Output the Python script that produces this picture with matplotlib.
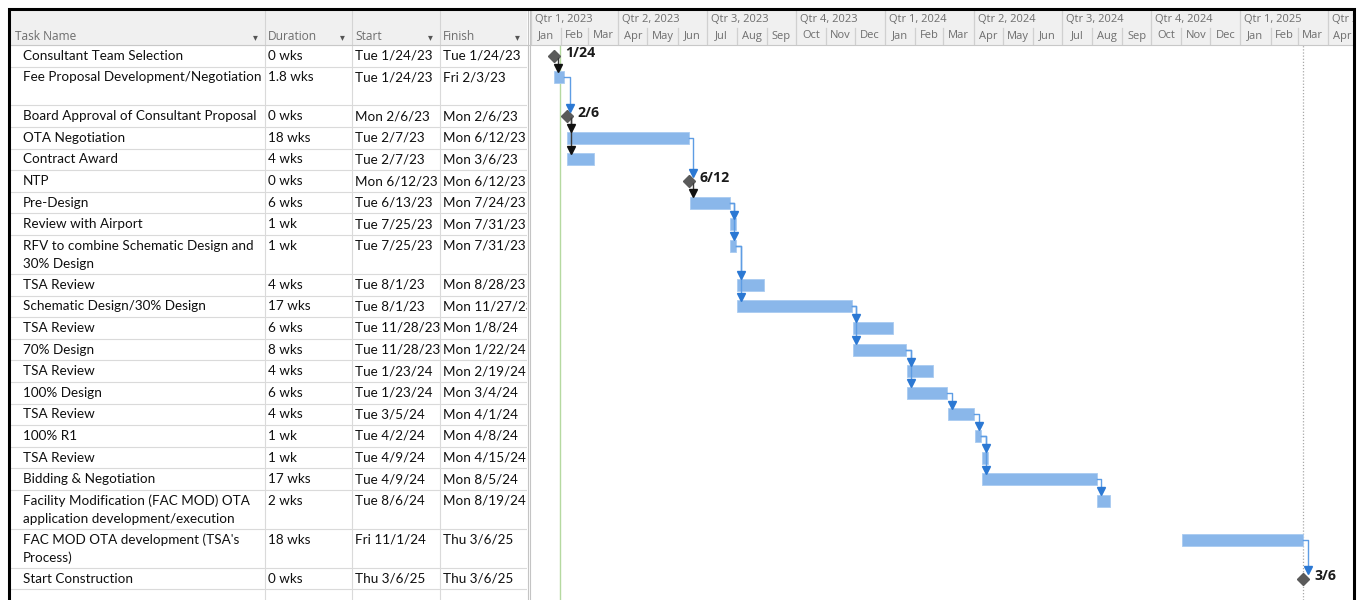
import numpy as np
import pandas as pd
import matplotlib as mpl
import matplotlib.pyplot as plt
import matplotlib.dates as mdates
from matplotlib.transforms import offset_copy

mpl.rcParams['font.family'] = ['Lato', 'DejaVu Sans']

# ---- schedule data ----
names = [
  'Consultant Team Selection',
  'Fee Proposal Development/Negotiation',
  'Board Approval of Consultant Proposal',
  'OTA Negotiation',
  'Contract Award',
  'NTP',
  'Pre-Design',
  'Review with Airport',
  'RFV to combine Schematic Design and\n30% Design',
  'TSA Review',
  'Schematic Design/30% Design',
  'TSA Review',
  '70% Design',
  'TSA Review',
  '100% Design',
  'TSA Review',
  '100% R1',
  'TSA Review',
  'Bidding & Negotiation',
  'Facility Modification (FAC MOD) OTA\napplication development/execution',
  "FAC MOD OTA development (TSA's\nProcess)",
  'Start Construction',
]
durations = ['0 wks', '1.8 wks', '0 wks', '18 wks', '4 wks', '0 wks', '6 wks', '1 wk', '1 wk',
             '4 wks', '17 wks', '6 wks', '8 wks', '4 wks', '6 wks', '4 wks', '1 wk', '1 wk',
             '17 wks', '2 wks', '18 wks', '0 wks']
starts = ['Tue 1/24/23', 'Tue 1/24/23', 'Mon 2/6/23', 'Tue 2/7/23', 'Tue 2/7/23', 'Mon 6/12/23',
          'Tue 6/13/23', 'Tue 7/25/23', 'Tue 7/25/23', 'Tue 8/1/23', 'Tue 8/1/23', 'Tue 11/28/23',
          'Tue 11/28/23', 'Tue 1/23/24', 'Tue 1/23/24', 'Tue 3/5/24', 'Tue 4/2/24', 'Tue 4/9/24',
          'Tue 4/9/24', 'Tue 8/6/24', 'Fri 11/1/24', 'Thu 3/6/25']
finishes = ['Tue 1/24/23', 'Fri 2/3/23', 'Mon 2/6/23', 'Mon 6/12/23', 'Mon 3/6/23', 'Mon 6/12/23',
            'Mon 7/24/23', 'Mon 7/31/23', 'Mon 7/31/23', 'Mon 8/28/23', 'Mon 11/27/23', 'Mon 1/8/24',
            'Mon 1/22/24', 'Mon 2/19/24', 'Mon 3/4/24', 'Mon 4/1/24', 'Mon 4/8/24', 'Mon 4/15/24',
            'Mon 8/5/24', 'Mon 8/19/24', 'Thu 3/6/25', 'Thu 3/6/25']
row_lines = [1, 2, 1, 1, 1, 1, 1, 1, 2, 1, 1, 1, 1, 1, 1, 1, 1, 1, 1, 2, 2, 1]
preds = [[], [0], [1], [2], [2], [3], [5], [6], [6], [8], [8], [10], [10], [12], [12], [14],
         [15], [16], [16], [18], [], [20]]
status_date = '2023-01-31'
timeline_start, timeline_end = '2023-01-01', '2025-04-27'

# ---- layout ----
W, H = 1359, 600
ROW = 21.6           # px per single row
HEAD_TOP, HEAD_BOT = 10, 45
TAB_L, TAB_R = 10, 527
GANTT_L, GANTT_R = 531, 1353
col_edges = [TAB_L, 265, 352, 440, TAB_R]
BAR_COL = '#8AB7EA'
LINK_COL = '#5E9DE4'
ARROW_COL = '#2B78D3'
MS_COL = '#5A5A5A'
GRID = '#DADADA'
HEAD_BG = '#F0F0F0'
HEAD_TXT = '#6E6E6E'
TXT = '#0F0F0F'

to_date = lambda s: pd.to_datetime(s.split()[1], format='%m/%d/%y')
st = [mdates.date2num(to_date(s)) for s in starts]
fi = [mdates.date2num(to_date(s)) for s in finishes]
milestone = [d.startswith('0 ') for d in durations]
heights = [1.0 if n == 1 else 1.8 for n in row_lines]
tops = np.concatenate([[0], np.cumsum(heights)])
ymax = (H - HEAD_BOT) / ROW

fig = plt.figure(figsize=(W / 100, H / 100), dpi=100)
fx = lambda px: px / W
fy = lambda px: 1 - px / H

# ---- table body ----
ax_t = fig.add_axes([fx(TAB_L), 0, fx(TAB_R - TAB_L), fy(HEAD_BOT)])
ax_t.set_xlim(TAB_L, TAB_R)
ax_t.set_ylim(ymax, 0)
ax_t.axis('off')
for y in tops:
  ax_t.axhline(y, color=GRID, lw=0.8)
for y in np.arange(tops[-1] + 1, ymax, 1):
  ax_t.axhline(y, color=GRID, lw=0.8)
for x in col_edges[1:-1]:
  ax_t.axvline(x, color=GRID, lw=0.8)
for i in range(len(names)):
  yc = tops[i] + 0.5
  for k, line in enumerate(names[i].split('\n')):
    ax_t.text(23, yc + k * 0.83, line, va='center', ha='left', fontsize=9.7, color=TXT, clip_on=True)
  for x, val in zip([268, 355, 443], [durations[i], starts[i], finishes[i]]):
    ax_t.text(x, yc, val, va='center', ha='left', fontsize=9.7, color=TXT, clip_on=True)

# ---- table header ----
ax_th = fig.add_axes([fx(TAB_L), fy(HEAD_BOT), fx(TAB_R - TAB_L), (HEAD_BOT - HEAD_TOP) / H])
ax_th.set_xlim(TAB_L, TAB_R)
ax_th.set_ylim(HEAD_BOT, HEAD_TOP)
ax_th.set_facecolor(HEAD_BG)
ax_th.set_xticks([]); ax_th.set_yticks([])
for s in ax_th.spines.values():
  s.set_visible(False)
for x in col_edges[1:-1]:
  ax_th.axvline(x, color='#D4D4D4', lw=0.8)
for (l, r), lab in zip(zip(col_edges[:-1], col_edges[1:]), ['Task Name', 'Duration', 'Start', 'Finish']):
  ax_th.text(l + (5 if l == TAB_L else 3), 36, lab, va='center', ha='left', fontsize=8.6,
             color=HEAD_TXT, family=['Open Sans', 'DejaVu Sans'])
  ax_th.text(r - 10, 37, '\u25BE', va='center', ha='center', fontsize=7, color='#555555',
             family='DejaVu Sans')

# ---- gantt body ----
xlim = (mdates.date2num(pd.Timestamp(timeline_start)), mdates.date2num(pd.Timestamp(timeline_end)))
px_day = (GANTT_R - GANTT_L) / (xlim[1] - xlim[0])
ax_g = fig.add_axes([fx(GANTT_L), 0, fx(GANTT_R - GANTT_L), fy(HEAD_BOT)])
ax_g.set_xlim(*xlim)
ax_g.set_ylim(ymax, 0)
ax_g.axis('off')

ax_g.axvline(mdates.date2num(pd.Timestamp(status_date)), color='#B5D9A0', lw=1, zorder=1)
ax_g.axvline(fi[-1] + 0.7, color='#A8A8A8', lw=0.9, ls=(0, (1, 1.5)), zorder=1)

bar_h = 12 / ROW
yc = tops[:-1] + 0.5
x_start = [s + 0.33 for s in st]
x_end = [f + 0.71 for f in fi]
x_ms = [f + (0.71 if p and not milestone[p[0]] else 0.33) for f, p in zip(fi, preds)]

for i in range(len(names)):
  if milestone[i]:
    ax_g.plot(x_ms[i], yc[i], marker='D', ms=5.8, color=MS_COL, mec=MS_COL, zorder=4)
    d = to_date(finishes[i])
    ax_g.annotate(f'{d.month}/{d.day}', (x_ms[i], yc[i]), xytext=(11, 3), textcoords='offset pixels',
                  va='center', ha='left', fontsize=10.2, fontweight='bold', color='#1A1A1A',
                  family=['Open Sans', 'DejaVu Sans'])
  else:
    ax_g.barh(yc[i], x_end[i] - x_start[i], left=x_start[i], height=bar_h, color=BAR_COL,
              edgecolor='#A9CBF1', lw=0.6, zorder=3)

arrow_tf = offset_copy(ax_g.transData, fig=fig, x=0, y=3.5, units='dots')
d4 = 4.5 / px_day
for i, ps in enumerate(preds):
  for p in ps:
    top_i = yc[i] - (5 / ROW if milestone[i] else bar_h / 2)
    if milestone[p]:
      xv = x_ms[p] + d4
      xs, ys = [xv, xv], [yc[p] + 2 / ROW, top_i - 3 / ROW]
      lc, ac = '#3A3A3A', '#111111'
    else:
      xv = max(x_end[p] + d4, (x_ms[i] if milestone[i] else x_start[i]) + 3 / px_day)
      xs, ys = [x_end[p], xv, xv], [yc[p], yc[p], top_i - 3 / ROW]
      lc, ac = LINK_COL, ARROW_COL
    ax_g.plot(xs, ys, color=lc, lw=1, zorder=5, solid_joinstyle='round')
    ax_g.plot(xv, top_i, marker='v', ms=5.5, color=ac, mec=ac, transform=arrow_tf, zorder=6)

# ---- timeline header ----
ax_gh = fig.add_axes([fx(GANTT_L), fy(HEAD_BOT), fx(GANTT_R - GANTT_L), (HEAD_BOT - HEAD_TOP) / H])
ax_gh.set_xlim(*xlim)
ax_gh.set_ylim(HEAD_BOT, HEAD_TOP)
ax_gh.set_facecolor(HEAD_BG)
ax_gh.set_xticks([]); ax_gh.set_yticks([])
for s in ax_gh.spines.values():
  s.set_visible(False)
months = pd.date_range('2023-01-01', '2025-05-01', freq='MS')
for m0, m1 in zip(months[:-1], months[1:]):
  a, b = mdates.date2num(m0), mdates.date2num(m1)
  if m0.month in (1, 4, 7, 10):
    ax_gh.plot([a, a], [HEAD_TOP, HEAD_BOT], color='#D0D0D0', lw=0.9)
    ax_gh.text(a + 4 / px_day, 19, f'Qtr {(m0.month - 1) // 3 + 1}, {m0.year}', va='center', ha='left',
               fontsize=8, color=HEAD_TXT, family=['Open Sans', 'DejaVu Sans'], clip_on=True)
  else:
    ax_gh.plot([a, a], [28, HEAD_BOT], color='#D0D0D0', lw=0.9)
  ax_gh.text((a + b) / 2, 36, m0.strftime('%b'), va='center', ha='center', fontsize=8,
             color=HEAD_TXT, family=['Open Sans', 'DejaVu Sans'], clip_on=True)

# ---- frame / dividers ----
ax_o = fig.add_axes([0, 0, 1, 1], zorder=10)
ax_o.set_xlim(0, W)
ax_o.set_ylim(H, 0)
ax_o.axis('off')
ax_o.plot([TAB_L, GANTT_R], [HEAD_BOT, HEAD_BOT], color='#C8C8C8', lw=0.8)
ax_o.plot([527.5, 527.5], [HEAD_TOP, H], color='#C4C4C4', lw=0.8)
ax_o.plot([530, 530], [HEAD_TOP, H], color='#C4C4C4', lw=0.8)
ax_o.plot([8.8, 8.8, 1354.2, 1354.2], [H, 8.6, 8.6, H], color='black', lw=2.2, solid_joinstyle='miter')

fig.savefig('out.png', dpi=100)
